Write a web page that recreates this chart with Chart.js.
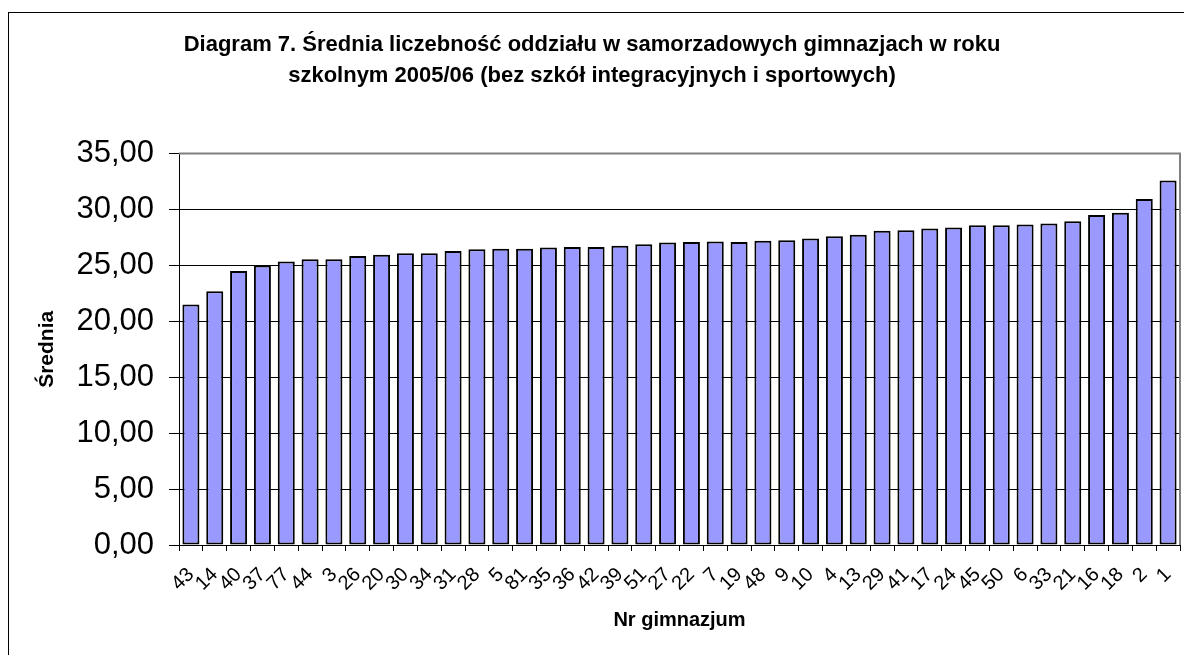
<!DOCTYPE html>
<html>
<head>
<meta charset="utf-8">
<script src="https://cdn.jsdelivr.net/npm/chart.js@4.4.0/dist/chart.umd.min.js"></script>
<style>
  html, body { margin: 0; padding: 0; background: #fff; overflow: hidden; }
  #wrap { position: absolute; left: 0; top: 0; width: 1184px; height: 655px; }
  #frame { position: absolute; left: 8px; top: 12px; width: 1300px; height: 800px; border: 1px solid #000; pointer-events: none; }
</style>
</head>
<body>
<div id="wrap"><canvas id="c" width="1184" height="655"></canvas></div>
<div id="frame"></div>
<script>
const titleLines = ['Diagram 7. Średnia liczebność oddziału w samorzadowych gimnazjach w roku', 'szkolnym 2005/06 (bez szkół integracyjnych i sportowych)'];
const xTitle = 'Nr gimnazjum';
const yTitle = 'Średnia';
const categories = ['43','14','40','37','77','44','3','26','20','30','34','31','28','5','81','35','36','42','39','51','27','22','7','19','48','9','10','4','13','29','41','17','24','45','50','6','33','21','16','18','2','1'];
const values = [21.5,22.7,24.5,25.0,25.35,25.55,25.55,25.85,25.95,26.1,26.1,26.3,26.45,26.5,26.5,26.6,26.65,26.65,26.75,26.9,27.05,27.1,27.15,27.1,27.2,27.25,27.4,27.6,27.75,28.1,28.15,28.3,28.4,28.6,28.6,28.65,28.75,28.95,29.5,29.7,30.95,32.6];
const yMin = 0, yMax = 35, yStep = 5;

const FONT = "'Liberation Sans', Arial, sans-serif";

const plotBorder = {
  id: 'plotBorder',
  beforeDatasetsDraw(chart) {
    const {ctx, chartArea: a} = chart;
    ctx.save();
    ctx.strokeStyle = '#808080';
    ctx.lineWidth = 2;
    ctx.beginPath();
    ctx.moveTo(a.left, a.top);
    ctx.lineTo(a.right, a.top);
    ctx.lineTo(a.right, a.bottom);
    ctx.stroke();
    ctx.restore();
  }
};

new Chart(document.getElementById('c'), {
  type: 'bar',
  data: {
    labels: categories,
    datasets: [{
      data: values,
      backgroundColor: '#9999FF',
      borderColor: '#000000',
      borderWidth: 2,
      borderSkipped: false,
      categoryPercentage: 1.0,
      barPercentage: 0.714
    }]
  },
  plugins: [plotBorder],
  options: {
    responsive: false,
    animation: false,
    devicePixelRatio: 1,
    layout: { padding: { left: 4, right: 4, top: 0, bottom: 0 } },
    plugins: {
      legend: { display: false },
      tooltip: { enabled: false },
      title: {
        display: true,
        text: titleLines,
        color: '#000',
        font: { family: FONT, size: 22, weight: 'bold', lineHeight: 1.4 },
        padding: { top: 30, bottom: 62 }
      }
    },
    scales: {
      x: {
        offset: true,
        grid: { display: true, drawOnChartArea: false, drawTicks: true, tickLength: 6, color: '#000', offset: true },
        border: { display: true, color: '#000', width: 1 },
        ticks: {
          color: '#000', font: { family: FONT, size: 20 },
          minRotation: 45, maxRotation: 45, autoSkip: false, padding: 12
        },
        title: {
          display: true, text: xTitle, color: '#000',
          font: { family: FONT, size: 20, weight: 'bold', lineHeight: 1.2 },
          padding: { top: 0, bottom: 23 }
        },
        afterFit(s) { s.height = 110; s.paddingRight = 4; s.paddingLeft = 0; }
      },
      y: {
        min: yMin, max: yMax,
        grid: { color: '#000', lineWidth: 1, drawTicks: true, tickLength: 10 },
        border: { display: true, color: '#000', width: 1 },
        ticks: {
          stepSize: yStep, color: '#000', padding: 15,
          font: { family: FONT, size: 31 },
          callback: v => v.toFixed(2).replace('.', ',')
        },
        title: {
          display: true, text: yTitle, color: '#000',
          font: { family: FONT, size: 21, weight: 'bold', lineHeight: 1.2 },
          padding: { top: 31, bottom: 0 }
        },
        afterFit(s) { s.width = 175; }
      }
    }
  }
});
</script>
</body>
</html>
